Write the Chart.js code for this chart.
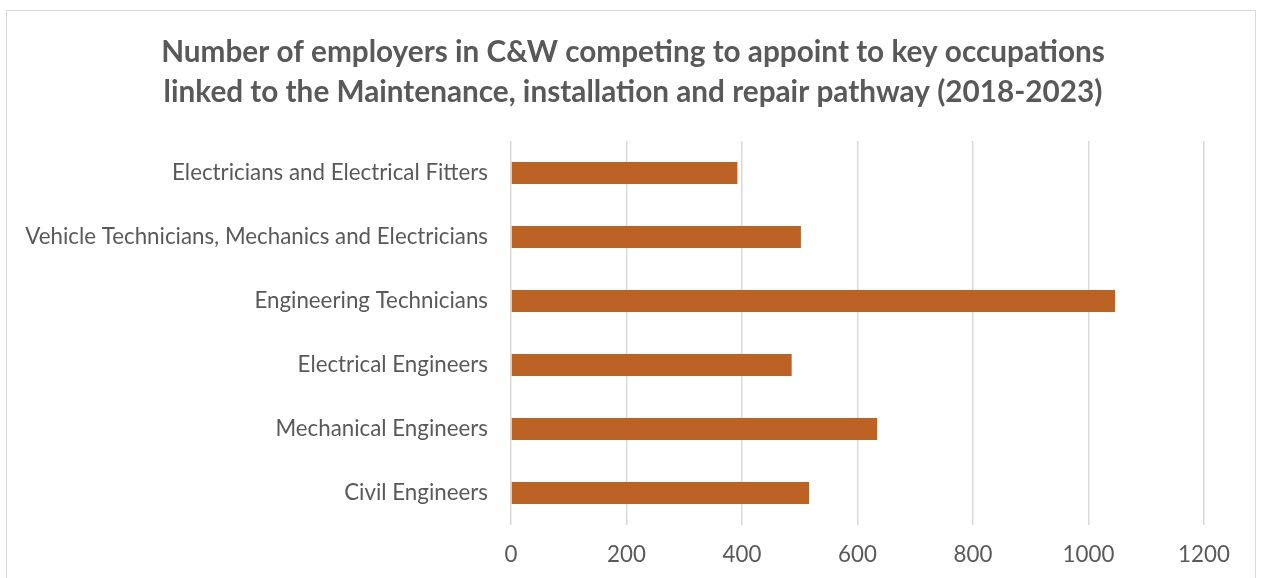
<!DOCTYPE html>
<html>
<head>
<meta charset="utf-8">
<script src="https://cdn.jsdelivr.net/npm/chart.js@4.4.0/dist/chart.umd.min.js"></script>
<style>
  html, body { margin: 0; padding: 0; background: #ffffff; width: 1261px; height: 578px; overflow: hidden; }
  #frame { position: absolute; left: 6px; top: 10px; width: 1250px; height: 600px; border: 1.5px solid #d9d9d9; box-sizing: border-box; }
  #c { position: absolute; left: 0; top: 0; }
</style>
</head>
<body>
<div id="frame"></div>
<canvas id="c" width="1261" height="578"></canvas>
<script>
const titleLines = [
  "Number of employers in C&W competing to appoint to key occupations",
  "linked to the Maintenance, installation and repair pathway (2018-2023)"
];
const categories = [
  "Electricians and Electrical Fitters",
  "Vehicle Technicians, Mechanics and Electricians",
  "Engineering Technicians",
  "Electrical Engineers",
  "Mechanical Engineers",
  "Civil Engineers"
];
const employers = [392, 502, 1046, 486, 634, 516];
const xTicks = [0, 200, 400, 600, 800, 1000, 1200];

const FONT = "Lato";
function fitSize(text, weight, targetWidth) {
  const ctx = document.createElement("canvas").getContext("2d");
  ctx.font = weight + " 100px " + FONT;
  return 100 * targetWidth / ctx.measureText(text).width;
}
const titleSize = fitSize(titleLines[0], "bold", 944);
const labelSize = fitSize(categories[1], "normal", 463);

const textColor = "#595959";

const centerTitle = {
  id: "centerTitle",
  afterLayout(chart) {
    if (chart.titleBlock) { chart.titleBlock.left = 62; }
  }
};

new Chart(document.getElementById("c"), {
  type: "bar",
  data: {
    labels: categories,
    datasets: [{
      data: employers,
      backgroundColor: "#bb6224",
      borderWidth: 0,
      barPercentage: 0.344,
      categoryPercentage: 1.0
    }]
  },
  plugins: [centerTitle],
  options: {
    indexAxis: "y",
    responsive: false,
    animation: false,
    layout: { padding: { left: 0, right: 57, top: 0, bottom: 0 } },
    plugins: {
      legend: { display: false },
      tooltip: { enabled: false },
      title: {
        display: true,
        text: titleLines,
        color: textColor,
        font: { family: FONT, weight: "bold", size: titleSize, lineHeight: 40 / titleSize },
        padding: { top: 32, bottom: 29 }
      }
    },
    scales: {
      x: {
        min: 0,
        max: 1200,
        afterBuildTicks: (scale) => { scale.ticks = xTicks.map(v => ({ value: v })); },
        afterFit: (scale) => { scale.height = 53; },
        grid: { color: "#d9d9d9", lineWidth: 1.5, drawTicks: false },
        border: { display: false },
        ticks: {
          color: textColor,
          font: { family: FONT, size: labelSize },
          padding: 16,
          callback: (v) => String(v)
        }
      },
      y: {
        afterFit: (scale) => { scale.width = 511; },
        grid: { display: false, drawTicks: false },
        border: { display: false },
        ticks: { color: textColor, font: { family: FONT, size: labelSize }, padding: 23 }
      }
    }
  }
});
</script>
</body>
</html>
